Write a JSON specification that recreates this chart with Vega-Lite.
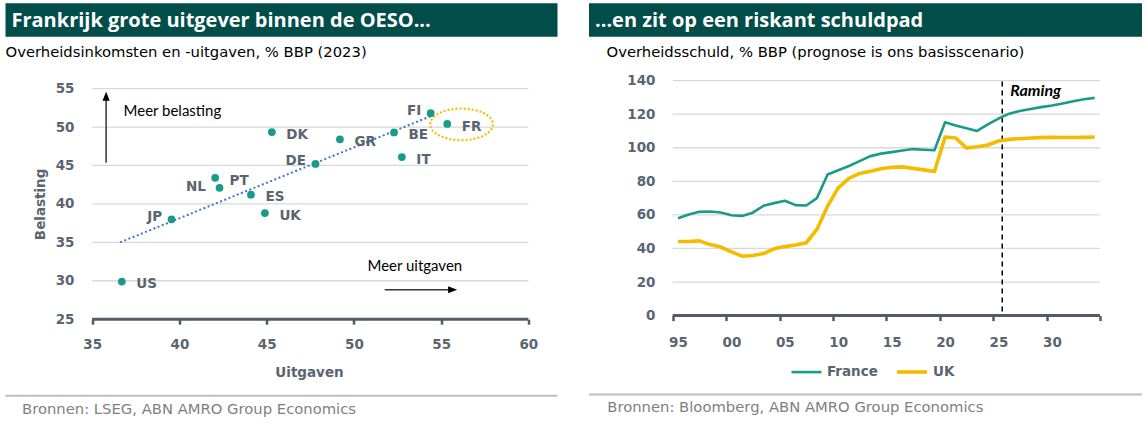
{
  "$schema": "https://vega.github.io/schema/vega-lite/v6.json",
  "background": "white",
  "padding": {"left": 5.5, "top": 3.3, "right": 0, "bottom": 0},
  "spacing": 31.5,
  "resolve": {"legend": {"color": "independent", "strokeWidth": "independent", "shape": "independent"}, "scale": {"color": "independent", "strokeWidth": "independent", "shape": "independent"}},
  "config": {
    "view": {"stroke": null},
    "font": "DejaVu Sans",
    "axis": {
      "labelFont": "DejaVu Sans", "labelFontWeight": "bold", "labelFontSize": 13.5, "labelColor": "#5a6570",
      "titleFont": "DejaVu Sans", "titleFontWeight": "bold", "titleFontSize": 13.5, "titleColor": "#5a6570",
      "grid": false, "domain": false, "labelFlush": false, "labelOverlap": false
    }
  },
  "datasets": {
    "landen": [
      {"land": "US", "x": 36.7, "y": 29.9},
      {"land": "JP", "x": 39.55, "y": 38.0},
      {"land": "NL", "x": 42.05, "y": 43.4},
      {"land": "PT", "x": 42.3, "y": 42.1},
      {"land": "ES", "x": 44.1, "y": 41.2},
      {"land": "UK", "x": 44.9, "y": 38.8},
      {"land": "DK", "x": 45.3, "y": 49.35},
      {"land": "DE", "x": 47.8, "y": 45.2},
      {"land": "GR", "x": 49.2, "y": 48.4},
      {"land": "BE", "x": 52.3, "y": 49.3},
      {"land": "IT", "x": 52.75, "y": 46.1},
      {"land": "FI", "x": 54.4, "y": 51.8},
      {"land": "FR", "x": 55.35, "y": 50.4}
    ],
    "schuld": [
      {"year": 1995, "France": 58.0, "UK": 44.1},
      {"year": 1996, "France": 60.2, "UK": 44.1},
      {"year": 1997, "France": 61.8, "UK": 44.5},
      {"year": 1998, "France": 62.0, "UK": 42.3},
      {"year": 1999, "France": 61.4, "UK": 40.8},
      {"year": 2000, "France": 59.8, "UK": 38.0},
      {"year": 2001, "France": 59.4, "UK": 35.4},
      {"year": 2002, "France": 61.3, "UK": 35.8},
      {"year": 2003, "France": 65.4, "UK": 37.0},
      {"year": 2004, "France": 67.0, "UK": 39.8},
      {"year": 2005, "France": 68.4, "UK": 41.1},
      {"year": 2006, "France": 65.8, "UK": 42.1},
      {"year": 2007, "France": 65.6, "UK": 43.4},
      {"year": 2008, "France": 70.0, "UK": 51.3},
      {"year": 2009, "France": 84.1, "UK": 65.2},
      {"year": 2010, "France": 86.6, "UK": 76.1},
      {"year": 2011, "France": 89.1, "UK": 81.7},
      {"year": 2012, "France": 92.0, "UK": 84.7},
      {"year": 2013, "France": 95.0, "UK": 86.0},
      {"year": 2014, "France": 96.5, "UK": 87.5},
      {"year": 2015, "France": 97.4, "UK": 88.4},
      {"year": 2016, "France": 98.4, "UK": 88.6},
      {"year": 2017, "France": 99.2, "UK": 87.7},
      {"year": 2018, "France": 98.8, "UK": 86.8},
      {"year": 2019, "France": 98.5, "UK": 85.9},
      {"year": 2020, "France": 115.2, "UK": 106.4},
      {"year": 2021, "France": 113.2, "UK": 105.8},
      {"year": 2022, "France": 111.6, "UK": 99.8},
      {"year": 2023, "France": 110.0, "UK": 100.6},
      {"year": 2024, "France": 113.9, "UK": 101.6},
      {"year": 2025, "France": 117.4, "UK": 104.0},
      {"year": 2026, "France": 120.3, "UK": 105.0},
      {"year": 2027, "France": 121.9, "UK": 105.4},
      {"year": 2028, "France": 123.1, "UK": 105.8},
      {"year": 2029, "France": 124.2, "UK": 106.0},
      {"year": 2030, "France": 125.2, "UK": 106.2},
      {"year": 2031, "France": 126.4, "UK": 106.1},
      {"year": 2032, "France": 127.7, "UK": 106.1},
      {"year": 2033, "France": 128.9, "UK": 106.2},
      {"year": 2034, "France": 129.7, "UK": 106.4}
    ]
  },
  "hconcat": [
    {
      "spacing": 10.5,
      "vconcat": [
        {
          "spacing": 7.3,
          "vconcat": [
            {
              "width": 552, "height": 33.4,
              "view": {"fill": "#014d4a", "stroke": null},
              "data": {"values": [{"t": "Frankrijk grote uitgever binnen de OESO..."}]},
              "mark": {"type": "text", "align": "left", "baseline": "middle", "dx": 6, "dy": 1, "font": "Open Sans", "fontWeight": "bold", "fontSize": 20, "color": "white"},
              "encoding": {
                "x": {"datum": 0, "type": "quantitative", "scale": {"domain": [0, 1]}, "axis": null},
                "text": {"field": "t"}
              }
            },
            {
              "width": 552, "height": 230.6,
              "title": {"text": "Overheidsinkomsten en -uitgaven, % BBP (2023)", "anchor": "start", "frame": "group", "offset": 22, "fontSize": 14.8, "font": "DejaVu Sans", "fontWeight": "normal", "color": "#000000"},
              "layer": [
                {
                  "data": {"values": [{"y": 30}, {"y": 35}, {"y": 40}, {"y": 45}, {"y": 50}, {"y": 55}]},
                  "mark": {"type": "rule", "color": "#d9d9d9", "strokeWidth": 1.3},
                  "encoding": {
                    "y": {"field": "y", "type": "quantitative", "scale": {"domain": [25, 55], "nice": false, "zero": false},
                      "axis": {"title": "Belasting", "values": [25, 30, 35, 40, 45, 50, 55], "tickCount": 20, "labelOverlap": false, "offset": -68.5, "ticks": false, "tickSize": 0, "labelPadding": 0, "titlePadding": 8}},
                    "x": {"datum": 35, "type": "quantitative", "scale": {"domain": [30.034, 61.67], "nice": false, "zero": false},
                      "axis": {"title": "Uitgaven", "values": [35, 40, 45, 50, 55, 60], "tickCount": 20, "labelOverlap": false, "format": "d", "ticks": true, "tickSize": 5, "tickWidth": 2.5, "tickColor": "#515c66", "labelPadding": 13, "titlePadding": 15, "titleX": 303.5}},
                    "x2": {"datum": 60}
                  }
                },
                {
                  "data": {"values": [{}]},
                  "mark": {"type": "rule", "color": "#515c66", "strokeWidth": 3},
                  "encoding": {
                    "y": {"datum": 25, "type": "quantitative"},
                    "x": {"datum": 35, "type": "quantitative"},
                    "x2": {"datum": 60}
                  }
                },
                {
                  "data": {"values": [{"x": 36.6, "y": 35.0}, {"x": 54.45, "y": 51.45}]},
                  "mark": {"type": "line", "color": "#4472c4", "strokeWidth": 2, "strokeDash": [2, 2.5]},
                  "encoding": {
                    "x": {"field": "x", "type": "quantitative"},
                    "y": {"field": "y", "type": "quantitative"}
                  }
                },
                {
                  "data": {"values": [{"x": 56.17, "y": 50.35}]},
                  "mark": {"type": "point", "shape": "M-1,0A1,0.505,0,1,1,1,0A1,0.505,0,1,1,-1,0Z", "size": 3930, "filled": false, "stroke": "#f5bd00", "strokeWidth": 2.2, "strokeDash": [2, 2], "opacity": 1},
                  "encoding": {
                    "x": {"field": "x", "type": "quantitative"},
                    "y": {"field": "y", "type": "quantitative"}
                  }
                },
                {
                  "data": {"name": "landen"},
                  "mark": {"type": "circle", "size": 60, "color": "#1a9a8b", "opacity": 1},
                  "encoding": {
                    "x": {"field": "x", "type": "quantitative"},
                    "y": {"field": "y", "type": "quantitative"}
                  }
                },
                {
                  "data": {"name": "landen"},
                  "transform": [{"filter": {"field": "land", "oneOf": ["US", "ES", "UK", "DK", "GR", "BE", "IT", "FR"]}}],
                  "mark": {"type": "text", "align": "left", "baseline": "middle", "dx": 14.5, "dy": 2.8, "font": "DejaVu Sans", "fontWeight": "bold", "fontSize": 13.5, "color": "#5a6570"},
                  "encoding": {
                    "x": {"field": "x", "type": "quantitative"},
                    "y": {"field": "y", "type": "quantitative"},
                    "text": {"field": "land"}
                  }
                },
                {
                  "data": {"name": "landen"},
                  "transform": [{"filter": {"field": "land", "oneOf": ["PT"]}}],
                  "mark": {"type": "text", "align": "left", "baseline": "middle", "dx": 10, "dy": -6.3, "font": "DejaVu Sans", "fontWeight": "bold", "fontSize": 13.5, "color": "#5a6570"},
                  "encoding": {
                    "x": {"field": "x", "type": "quantitative"},
                    "y": {"field": "y", "type": "quantitative"},
                    "text": {"field": "land"}
                  }
                },
                {
                  "data": {"name": "landen"},
                  "transform": [{"filter": {"field": "land", "oneOf": ["FI", "JP", "DE"]}}],
                  "mark": {"type": "text", "align": "right", "baseline": "middle", "dx": -9.5, "dy": -2.5, "font": "DejaVu Sans", "fontWeight": "bold", "fontSize": 13.5, "color": "#5a6570"},
                  "encoding": {
                    "x": {"field": "x", "type": "quantitative"},
                    "y": {"field": "y", "type": "quantitative"},
                    "text": {"field": "land"}
                  }
                },
                {
                  "data": {"name": "landen"},
                  "transform": [{"filter": {"field": "land", "oneOf": ["NL"]}}],
                  "mark": {"type": "text", "align": "right", "baseline": "middle", "dx": -9.3, "dy": 9, "font": "DejaVu Sans", "fontWeight": "bold", "fontSize": 13.5, "color": "#5a6570"},
                  "encoding": {
                    "x": {"field": "x", "type": "quantitative"},
                    "y": {"field": "y", "type": "quantitative"},
                    "text": {"field": "land"}
                  }
                },
                {
                  "data": {"values": [{"x": 35.8, "y": 45.35, "x2": 35.8, "y2": 54.0}, {"x": 51.77, "y": 28.83, "x2": 55.66, "y2": 28.83}]},
                  "mark": {"type": "rule", "color": "#333333", "strokeWidth": 1.5},
                  "encoding": {
                    "x": {"field": "x", "type": "quantitative"},
                    "y": {"field": "y", "type": "quantitative"},
                    "x2": {"field": "x2"},
                    "y2": {"field": "y2"}
                  }
                },
                {
                  "data": {"values": [{"x": 35.8, "y": 54.0, "dir": "up"}, {"x": 55.66, "y": 28.83, "dir": "right"}]},
                  "mark": {"type": "point", "filled": true, "size": 81, "color": "#000000", "opacity": 1},
                  "encoding": {
                    "x": {"field": "x", "type": "quantitative"},
                    "y": {"field": "y", "type": "quantitative"},
                    "shape": {"field": "dir", "type": "nominal", "scale": {"domain": ["up", "right"], "range": ["M0,-1L-0.8,1L0.8,1Z", "M1,0L-1,-0.8L-1,0.8Z"]}, "legend": null}
                  }
                },
                {
                  "data": {"values": [{"x": 36.8, "y": 52.1, "t": "Meer belasting"}, {"x": 50.78, "y": 31.9, "t": "Meer uitgaven"}]},
                  "mark": {"type": "text", "align": "left", "baseline": "middle", "font": "Lato", "fontSize": 15, "color": "#000000"},
                  "encoding": {
                    "x": {"field": "x", "type": "quantitative"},
                    "y": {"field": "y", "type": "quantitative"},
                    "text": {"field": "t"}
                  }
                }
              ]
            }
          ]
        },
        {
          "width": 552, "height": 2,
          "view": {"fill": "#bfbfbf", "stroke": null},
          "data": {"values": [{}]},
          "mark": {"type": "text", "opacity": 0},
          "encoding": {"text": {"value": ""}},
          "title": {"text": "Bronnen: LSEG, ABN AMRO Group Economics", "orient": "bottom", "anchor": "start", "frame": "group", "dx": 16.5, "offset": 1, "fontSize": 14.8, "fontWeight": "normal", "color": "#7f7f7f", "font": "DejaVu Sans"}
        }
      ]
    },
    {
      "spacing": 8.2,
      "resolve": {"legend": {"color": "independent", "strokeWidth": "independent"}, "scale": {"color": "independent", "strokeWidth": "independent"}},
      "vconcat": [
        {
          "spacing": 7.3,
          "resolve": {"legend": {"color": "independent", "strokeWidth": "independent"}, "scale": {"color": "independent", "strokeWidth": "independent"}},
          "vconcat": [
            {
              "width": 553, "height": 33.4,
              "view": {"fill": "#014d4a", "stroke": null},
              "data": {"values": [{"t": "...en zit op een riskant schuldpad"}]},
              "mark": {"type": "text", "align": "left", "baseline": "middle", "dx": 6, "dy": 1, "font": "Open Sans", "fontWeight": "bold", "fontSize": 20, "color": "white"},
              "encoding": {
                "x": {"datum": 0, "type": "quantitative", "scale": {"domain": [0, 1]}, "axis": null},
                "text": {"field": "t"}
              }
            },
            {
              "width": 553, "height": 235,
              "title": {"text": "Overheidsschuld, % BBP (prognose is ons basisscenario)", "anchor": "start", "frame": "group", "dx": 17.5, "offset": 14, "fontSize": 14.8, "font": "DejaVu Sans", "fontWeight": "normal", "color": "#000000"},
              "layer": [
                {
                  "data": {"values": [{"v": 20}, {"v": 40}, {"v": 60}, {"v": 80}, {"v": 100}, {"v": 120}, {"v": 140}]},
                  "mark": {"type": "rule", "color": "#d9d9d9", "strokeWidth": 1.3},
                  "encoding": {
                    "y": {"field": "v", "type": "quantitative", "scale": {"domain": [0, 140], "nice": false},
                      "axis": {"title": null, "values": [0, 20, 40, 60, 80, 100, 120, 140], "tickCount": 20, "labelOverlap": false, "offset": -66, "ticks": false, "tickSize": 0, "labelPadding": 0}},
                    "x": {"datum": 1994.5, "type": "quantitative", "scale": {"domain": [1986.665, 2038.432], "nice": false, "zero": false},
                      "axis": {"title": null, "values": [1994.5, 1999.5, 2004.5, 2009.5, 2014.5, 2019.5, 2024.5, 2029.5, 2034.5], "tickCount": 20, "labelOverlap": false, "labelExpr": "datum.value > 2034 ? '' : substring(toString(datum.value + 0.5), 2, 4)", "labelOffset": 5.3, "ticks": true, "tickSize": 5, "tickWidth": 2.5, "tickColor": "#515c66", "labelPadding": 14.5}},
                    "x2": {"datum": 2034.5}
                  }
                },
                {
                  "data": {"values": [{}]},
                  "mark": {"type": "rule", "color": "#515c66", "strokeWidth": 3},
                  "encoding": {
                    "y": {"datum": 0, "type": "quantitative"},
                    "x": {"datum": 1994.5, "type": "quantitative"},
                    "x2": {"datum": 2034.5}
                  }
                },
                {
                  "data": {"values": [{}]},
                  "mark": {"type": "rule", "color": "#000000", "strokeWidth": 1.5, "strokeDash": [5, 4]},
                  "encoding": {
                    "x": {"datum": 2025.35, "type": "quantitative"},
                    "y": {"datum": 2.5, "type": "quantitative"},
                    "y2": {"datum": 141.5}
                  }
                },
                {
                  "data": {"name": "schuld"},
                  "transform": [{"fold": ["France", "UK"], "as": ["s", "v"]}],
                  "mark": {"type": "line", "strokeJoin": "round"},
                  "encoding": {
                    "x": {"field": "year", "type": "quantitative"},
                    "y": {"field": "v", "type": "quantitative"},
                    "color": {"field": "s", "type": "nominal", "scale": {"domain": ["France", "UK"], "range": ["#1a9a8b", "#f5bb00"]},
                      "legend": {"title": null, "orient": "none", "legendX": 201, "legendY": 274, "direction": "horizontal", "symbolType": "stroke", "symbolSize": 900, "symbolStrokeWidth": 3.5, "labelFontSize": 13.5, "labelFontWeight": "bold", "labelColor": "#5a6570", "labelFont": "DejaVu Sans", "labelOffset": 4, "columnPadding": 11}},
                    "strokeWidth": {"field": "s", "type": "nominal", "scale": {"domain": ["France", "UK"], "range": [2.6, 3.6]}, "legend": null}
                  }
                },
                {
                  "data": {"values": [{"year": 2026.1, "v": 133.6, "t": "Raming"}]},
                  "mark": {"type": "text", "align": "left", "baseline": "middle", "font": "Lato", "fontWeight": "bold", "fontStyle": "italic", "fontSize": 16, "color": "#000000"},
                  "encoding": {
                    "x": {"field": "year", "type": "quantitative"},
                    "y": {"field": "v", "type": "quantitative"},
                    "text": {"field": "t"}
                  }
                }
              ]
            }
          ]
        },
        {
          "width": 553, "height": 2,
          "view": {"fill": "#bfbfbf", "stroke": null},
          "data": {"values": [{}]},
          "mark": {"type": "text", "opacity": 0},
          "encoding": {"text": {"value": ""}},
          "title": {"text": "Bronnen: Bloomberg, ABN AMRO Group Economics", "orient": "bottom", "anchor": "start", "frame": "group", "dx": 18.3, "offset": 1, "fontSize": 14.8, "fontWeight": "normal", "color": "#7f7f7f", "font": "DejaVu Sans"}
        }
      ]
    }
  ]
}
